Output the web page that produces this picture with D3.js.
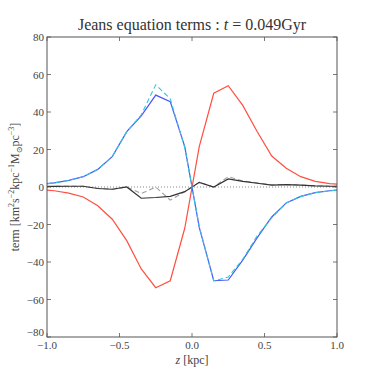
<!DOCTYPE html>
<html><head><meta charset="utf-8">
<script src="https://cdn.jsdelivr.net/npm/d3@7"></script>
<style>body{margin:0;background:#fff}svg{display:block}text{font-family:"Liberation Serif","DejaVu Serif",serif}</style>
</head><body>
<svg id="c" width="374" height="374"></svg>
<script>
const zValues = [-1.05,-0.95,-0.85,-0.75,-0.65,-0.55,-0.45,-0.35,-0.25,-0.15,-0.05,0.05,0.15,0.25,0.35,0.45,0.55,0.65,0.75,0.85,0.95,1.05];
const blueTerm   = [1.3,2.2,3.5,5.5,9.4,16.2,29.5,37.9,49,45.5,21.5,-21.5,-50,-49.6,-39,-27,-16,-8.5,-5,-3,-2,-1.3];
const cyanTerm   = [1.3,2.2,3.5,5.5,9.4,16.2,29.5,38.5,54.5,47,21,-21,-50,-48,-38.5,-26,-16.5,-8.5,-5,-3,-2,-1.3];
const redTerm    = [-1.3,-2.0,-3.3,-5.3,-10,-17.2,-28.6,-43.7,-53.7,-50,-22,21.5,50,54,43.5,29.5,16.5,10,5.5,3,1.8,1.2];
const blackTerm  = [0.3,0.3,0.4,0.4,-0.8,-1.2,0,-6,-5.6,-5,-2.5,2.5,0,4.3,3,2,1,1.3,1,0.6,0.4,0.3];
const grayTerm   = [0.3,0.3,0.4,0.4,-0.8,-1.2,0,-3.5,0,-7,-2.5,2.5,0,5.5,3.2,2.2,1.2,1.3,1,0.6,0.4,0.3];
const xTicks = [-1.0,-0.5,0.0,0.5,1.0];
const yTicks = [-80,-60,-40,-20,0,20,40,60,80];

const svg = d3.select("#c");
const L=47,R=337,T=37,B=337;
const x = d3.scaleLinear().domain([-1,1]).range([L,R]);
const y = d3.scaleLinear().domain([-80,80]).range([B,T]);
const fmt = v => (v<0?"\u2212":"")+Math.abs(v).toFixed(1);
const fmtY = v => (v<0?"\u2212":"")+Math.abs(v);

svg.append("clipPath").attr("id","clip").append("rect").attr("x",L).attr("y",T).attr("width",R-L).attr("height",B-T);
const g = svg.append("g").attr("clip-path","url(#clip)");

g.append("line").attr("x1",L).attr("x2",R).attr("y1",y(0)).attr("y2",y(0))
 .attr("stroke","#888").attr("stroke-width",1).attr("stroke-dasharray","1,2");

const line = d3.line().x((d,i)=>x(zValues[i])).y(d=>y(d));
function draw(data,color,w,dash){
  const p = g.append("path").attr("d",line(data)).attr("fill","none").attr("stroke",color).attr("stroke-width",w).attr("stroke-linejoin","miter");
  if(dash) p.attr("stroke-dasharray",dash);
}
draw(redTerm,"#ff4f40",1.2);
draw(grayTerm,"#a0a0a0",1.1,"5,3");
draw(blackTerm,"#333333",1.2);
draw(blueTerm,"#4a55ff",1.2);
draw(cyanTerm,"#33c8d0",1.1,"5,3");

svg.append("rect").attr("x",L).attr("y",T).attr("width",R-L).attr("height",B-T).attr("fill","none").attr("stroke","#555").attr("stroke-width",1);

const tk = svg.append("g").attr("stroke","#555").attr("stroke-width",0.8);
xTicks.forEach(v=>{
  tk.append("line").attr("x1",x(v)).attr("x2",x(v)).attr("y1",B).attr("y2",B-4);
  tk.append("line").attr("x1",x(v)).attr("x2",x(v)).attr("y1",T).attr("y2",T+4);
});
yTicks.forEach(v=>{
  tk.append("line").attr("x1",L).attr("x2",L+4).attr("y1",y(v)).attr("y2",y(v));
  tk.append("line").attr("x1",R).attr("x2",R-4).attr("y1",y(v)).attr("y2",y(v));
});
svg.append("g").selectAll("text").data(xTicks).join("text")
 .attr("x",d=>x(d)).attr("y",B+12).attr("text-anchor","middle").attr("font-size",11).attr("fill","#444").text(fmt);
svg.append("g").selectAll("text").data(yTicks).join("text")
 .attr("x",L-3).attr("y",d=>y(d)+(d===-80?-1:4)).attr("text-anchor","end").attr("font-size",11).attr("fill","#444").text(fmtY);

const tt = svg.append("text").attr("x",(L+R)/2).attr("y",30).attr("text-anchor","middle").attr("font-size",16).attr("fill","#333");
tt.append("tspan").text("Jeans equation terms : ");
tt.append("tspan").attr("font-style","italic").text("t");
tt.append("tspan").text(" = 0.049Gyr");

const xl = svg.append("text").attr("x",(L+R)/2).attr("y",364).attr("text-anchor","middle").attr("font-size",12).attr("fill","#444");
xl.append("tspan").attr("font-style","italic").text("z");
xl.append("tspan").text(" [kpc]");

const yl = svg.append("text").attr("transform",`translate(19,${(T+B)/2}) rotate(-90)`).attr("text-anchor","middle").attr("font-size",12).attr("fill","#444");
yl.append("tspan").text("term [km");
yl.append("tspan").attr("font-size",8).attr("dy",-5).text("2");
yl.append("tspan").attr("dy",5).text("s");
yl.append("tspan").attr("font-size",8).attr("dy",-5).text("\u22122");
yl.append("tspan").attr("dy",5).text("kpc");
yl.append("tspan").attr("font-size",8).attr("dy",-5).text("\u22121");
yl.append("tspan").attr("dy",5).text("M");
yl.append("tspan").attr("font-size",8).attr("dy",3).text("\u2299");
yl.append("tspan").attr("dy",-3).text("pc");
yl.append("tspan").attr("font-size",8).attr("dy",-5).text("\u22123");
yl.append("tspan").attr("dy",5).text("]");
</script>
</body></html>
